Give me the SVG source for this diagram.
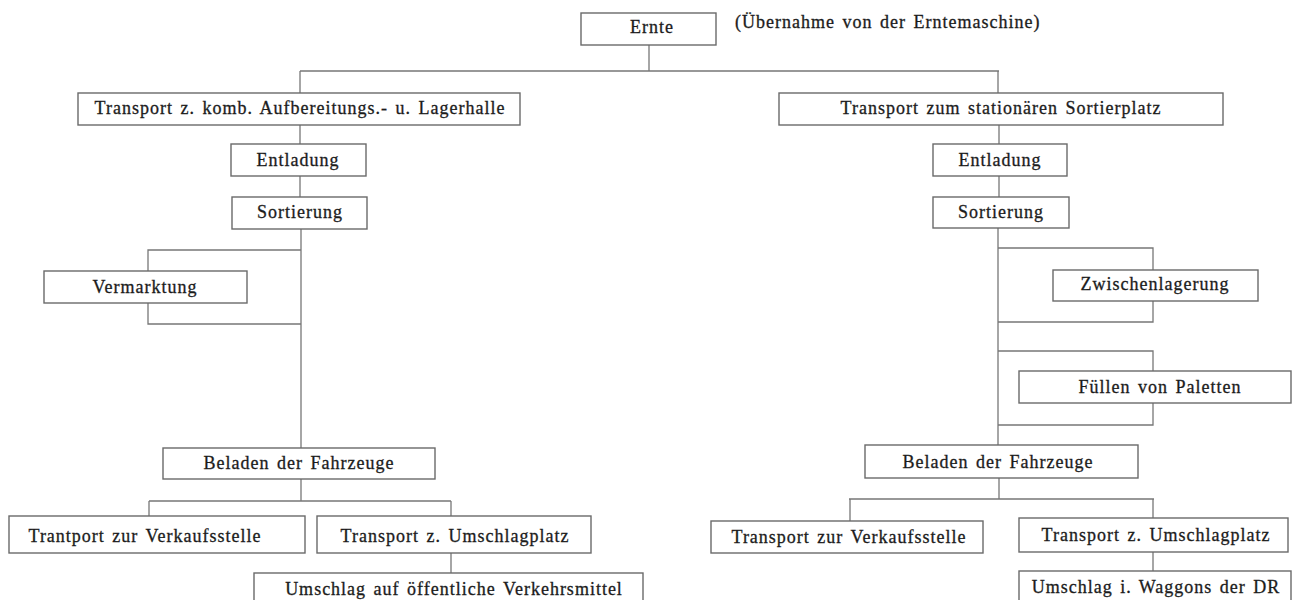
<svg xmlns="http://www.w3.org/2000/svg" width="1301" height="600" viewBox="0 0 1301 600">
<style>
.box{fill:#fff;stroke:#6a6a6a;stroke-width:1.4}
.ln{fill:none;stroke:#777;stroke-width:1.3}
text{font-family:"Liberation Serif","Times New Roman",serif;font-size:18px;fill:#1c1c1c;stroke:#1c1c1c;stroke-width:0.3;letter-spacing:1px;word-spacing:2px}
.c{text-anchor:middle}
</style>
<rect width="1301" height="600" fill="#fff"/>
<g id="connectors">
<path class="ln" d="M649 45V71M300 71H999M300 71V93M998 71V93"/>
<path class="ln" d="M300 125V144M300 176V197M301 229V448"/>
<path class="ln" d="M301 250H148V271M148 303V324H301"/>
<path class="ln" d="M999 125V144M999 176V197M998 228V445"/>
<path class="ln" d="M998 248H1153V270M1153 301V322H998"/>
<path class="ln" d="M998 351H1153V371M1153 403V425H998"/>
<path class="ln" d="M301 479V501M149 501H451M149 501V516M451 501V516M451 553V573"/>
<path class="ln" d="M999 478V499M849 499H1154M850 499V521M1153 499V518M1153 552V571"/>
</g>
<g id="n-ernte"><rect class="box" x="581" y="13" width="135" height="32"/><text class="c" x="652" y="33">Ernte</text></g>
<g id="n-note"><text x="735" y="28">(Übernahme von der Erntemaschine)</text></g>
<g id="n-transport-lager"><rect class="box" x="78" y="93" width="442" height="32"/><text class="c" x="300" y="114">Transport z. komb. Aufbereitungs.- u. Lagerhalle</text></g>
<g id="n-transport-sort"><rect class="box" x="779" y="93" width="444" height="32"/><text class="c" x="1001" y="114">Transport zum stationären Sortierplatz</text></g>
<g id="n-entladung-l"><rect class="box" x="231" y="144" width="135" height="32"/><text class="c" x="298" y="166">Entladung</text></g>
<g id="n-entladung-r"><rect class="box" x="933" y="144" width="134" height="32"/><text class="c" x="1000" y="166">Entladung</text></g>
<g id="n-sortierung-l"><rect class="box" x="232" y="197" width="135" height="32"/><text class="c" x="300" y="218">Sortierung</text></g>
<g id="n-sortierung-r"><rect class="box" x="933" y="197" width="136" height="31"/><text class="c" x="1001" y="218">Sortierung</text></g>
<g id="n-vermarktung"><rect class="box" x="44" y="271" width="203" height="32"/><text class="c" x="145" y="293">Vermarktung</text></g>
<g id="n-zwischen"><rect class="box" x="1053" y="270" width="205" height="31"/><text class="c" x="1155" y="290">Zwischenlagerung</text></g>
<g id="n-paletten"><rect class="box" x="1019" y="371" width="272" height="32"/><text class="c" x="1160" y="393">Füllen von Paletten</text></g>
<g id="n-beladen-l"><rect class="box" x="163" y="448" width="272" height="31"/><text class="c" x="299" y="469">Beladen der Fahrzeuge</text></g>
<g id="n-beladen-r"><rect class="box" x="865" y="445" width="273" height="33"/><text class="c" x="998" y="468">Beladen der Fahrzeuge</text></g>
<g id="n-verkauf-l"><rect class="box" x="9" y="516" width="296" height="37"/><text class="c" x="145" y="542">Trantport zur Verkaufsstelle</text></g>
<g id="n-umschlagplatz-l"><rect class="box" x="317" y="516" width="274" height="37"/><text class="c" x="455" y="542">Transport z. Umschlagplatz</text></g>
<g id="n-verkehrsmittel"><rect class="box" x="254" y="573" width="389" height="32"/><text class="c" x="454" y="595">Umschlag auf öffentliche Verkehrsmittel</text></g>
<g id="n-verkauf-r"><rect class="box" x="711" y="521" width="272" height="32"/><text class="c" x="849" y="543">Transport zur Verkaufsstelle</text></g>
<g id="n-umschlagplatz-r"><rect class="box" x="1019" y="518" width="269" height="34"/><text class="c" x="1156" y="541">Transport z. Umschlagplatz</text></g>
<g id="n-waggons"><rect class="box" x="1019" y="571" width="272" height="34"/><text class="c" x="1156" y="593">Umschlag i. Waggons der DR</text></g>
</svg>
